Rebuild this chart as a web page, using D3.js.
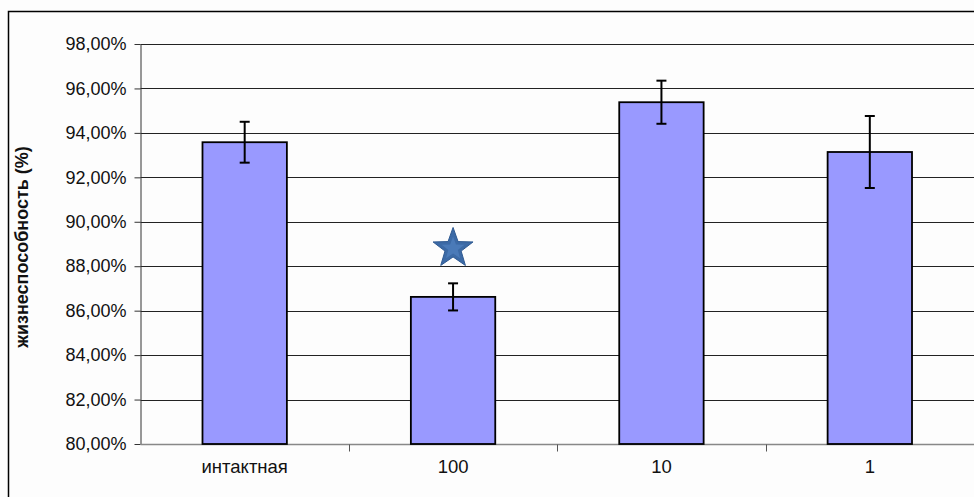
<!DOCTYPE html>
<html>
<head>
<meta charset="utf-8">
<script src="https://cdn.jsdelivr.net/npm/d3@7/dist/d3.min.js"></script>
<style>
  html, body { margin: 0; padding: 0; background: #fdfdfd; }
  svg { display: block; }
  text { font-family: Arial, "Liberation Sans", sans-serif; fill: #111; }
</style>
</head>
<body>
<svg id="chart" width="974" height="497"></svg>
<script>
// Viability by group (percent) with standard error
const categories = ["интактная", "100", "10", "1"];
const values = [93.58, 86.62, 95.38, 93.14];
const errors = [0.92, 0.61, 0.97, 1.62];
const yTicks = [80, 82, 84, 86, 88, 90, 92, 94, 96, 98];
const markedCategory = "100";
const markLevel = 88.8;
const yTitle = "жизнеспособность (%)";

const svg = d3.select("#chart");
const W = 974, H = 497;
const m = { left: 140.5, right: 974, top: 44, bottom: 444 };

// outer frame (runs past the right and bottom edges)
svg.append("rect")
  .attr("x", 8.5).attr("y", 11.5)
  .attr("width", W + 20).attr("height", H + 20)
  .attr("fill", "#fdfdfd").attr("stroke", "#000").attr("stroke-width", 1.5);

const x = d3.scaleBand().domain(categories).range([m.left, m.right]).paddingInner(0).paddingOuter(0);
const y = d3.scaleLinear().domain([80, 98]).range([m.bottom, m.top]);
const fmt = v => d3.format(".2f")(v).replace(".", ",") + "%";

// horizontal gridlines
svg.append("g").selectAll("line").data(yTicks.filter(t => t > 80)).join("line")
  .attr("x1", m.left).attr("x2", m.right)
  .attr("y1", d => Math.round(y(d)) + 0.5).attr("y2", d => Math.round(y(d)) + 0.5)
  .attr("stroke", "#222").attr("stroke-width", 1);

// y axis
const yAxis = svg.append("g").attr("transform", `translate(${m.left},0)`)
  .call(d3.axisLeft(y).tickValues(yTicks).tickFormat(fmt).tickSize(6).tickSizeOuter(0));
yAxis.select(".domain").attr("stroke", "#333");
yAxis.selectAll(".tick line").attr("stroke", "#333");
yAxis.selectAll(".tick text").attr("x", -14).attr("font-size", 18)
  .attr("font-family", "Arial, 'Liberation Sans', sans-serif").attr("fill", "#111");

// x axis with ticks between categories
const xAxisY = m.bottom + 0.5;
svg.append("line").attr("x1", m.left).attr("x2", m.right)
  .attr("y1", xAxisY).attr("y2", xAxisY).attr("stroke", "#888").attr("stroke-width", 1.5);
svg.append("g").selectAll("line").data(categories.slice(1)).join("line")
  .attr("x1", d => Math.round(x(d)) + 0.5).attr("x2", d => Math.round(x(d)) + 0.5)
  .attr("y1", xAxisY).attr("y2", xAxisY + 7).attr("stroke", "#555");
svg.append("g").selectAll("text").data(categories).join("text")
  .attr("x", d => x(d) + x.bandwidth() / 2).attr("y", 473)
  .attr("text-anchor", "middle").attr("font-size", 18.5).text(d => d);

// bars
const barW = x.bandwidth() * 0.405;
svg.append("g").selectAll("rect").data(categories).join("rect")
  .attr("x", d => x(d) + x.bandwidth() / 2 - barW / 2)
  .attr("y", (d, i) => y(values[i]))
  .attr("width", barW)
  .attr("height", (d, i) => y(80) - y(values[i]))
  .attr("fill", "#9999ff").attr("stroke", "#000").attr("stroke-width", 1.8);

// error bars
const eb = svg.append("g").attr("stroke", "#000").attr("stroke-width", 2);
categories.forEach((c, i) => {
  const cx = x(c) + x.bandwidth() / 2;
  const y1 = y(values[i] + errors[i]), y2 = y(values[i] - errors[i]);
  eb.append("line").attr("x1", cx).attr("x2", cx).attr("y1", y1).attr("y2", y2);
  eb.append("line").attr("x1", cx - 5).attr("x2", cx + 5).attr("y1", y1).attr("y2", y1);
  eb.append("line").attr("x1", cx - 5).attr("x2", cx + 5).attr("y1", y2).attr("y2", y2);
});

// significance star
const starCx = x(markedCategory) + x.bandwidth() / 2;
const starCy = y(markLevel);
const starPts = (R, r) => d3.range(10).map(k => {
  const a = -Math.PI / 2 + k * Math.PI / 5;
  const rr = k % 2 === 0 ? R : r;
  return [starCx + rr * Math.cos(a), starCy + rr * Math.sin(a)];
});
svg.append("polygon").attr("points", starPts(21, 8.5).map(p => p.join(",")).join(" "))
  .attr("fill", "#3c6aa6").attr("stroke", "#2f5a92").attr("stroke-width", 1);
svg.append("polygon").attr("points", starPts(12, 5).map(p => p.join(",")).join(" "))
  .attr("fill", "#4a7ab8").attr("stroke", "none");

// y axis title
svg.append("text")
  .attr("transform", `translate(28,${(m.top + m.bottom) / 2 + 3}) rotate(-90)`)
  .attr("text-anchor", "middle").attr("font-size", 18).attr("font-weight", "bold")
  .text(yTitle);
</script>
</body>
</html>
